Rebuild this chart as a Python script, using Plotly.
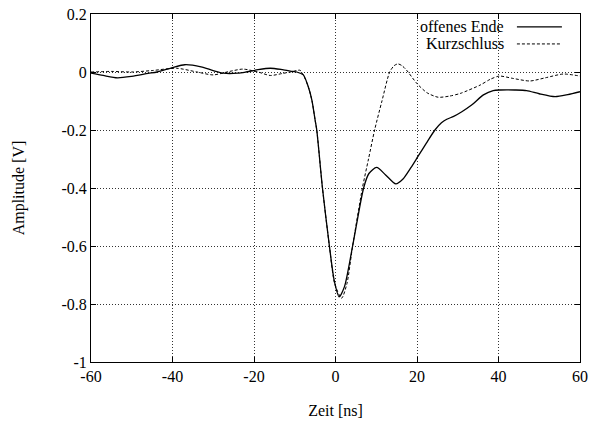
import plotly.graph_objects as go

# Time axis samples [ns] and measured amplitudes [V]
t_offen = [-60, -57, -53.5, -50, -46, -43.8, -40, -37, -33, -30, -27.5, -24, -22, -19, -16,
           -13, -10.5, -9.5, -7.9, -6.7, -5.8, -5.0, -4.6, -3.2, -1.5, -0.3, 0.9, 2.2, 4.2,
           6.9, 8.2, 10.1, 12.3, 14.8, 16.5, 18.5, 20.2, 22.3, 24.4, 26, 27.3, 29, 31, 33.4,
           36.3, 38.7, 40.5, 44, 46.9, 50, 53.9, 57, 60]
u_offen = [-0.004, -0.012, -0.02, -0.015, -0.005, 0.0, 0.015, 0.025, 0.018, 0.005, -0.004,
           -0.004, 0.0, 0.008, 0.013, 0.008, 0.002, 0.0, -0.01, -0.05, -0.097, -0.166, -0.2,
           -0.4, -0.6, -0.72, -0.775, -0.74, -0.6, -0.4, -0.35, -0.329, -0.355, -0.386,
           -0.37, -0.33, -0.292, -0.245, -0.2, -0.175, -0.163, -0.153, -0.137, -0.114,
           -0.079, -0.064, -0.062, -0.062, -0.064, -0.075, -0.085, -0.078, -0.068]

t_kurz = [-60, -55, -50, -45, -39, -34, -30, -26, -22.7, -19, -16, -13, -11, -8.7, -7.9,
          -6.7, -5.8, -5.0, -4.6, -3.2, -1.5, -0.2, 1.5, 2.8, 4.2, 6.6, 8.1, 9.6, 11.4, 13.3,
          14.4, 15.3, 16.3, 17.4, 20, 22.5, 25.2, 28, 30.6, 35.5, 38, 40.2, 43.5, 47.7, 51.5,
          55.9, 60]
u_kurz = [0.0, 0.002, 0.0, 0.005, 0.013, 0.0, -0.01, 0.002, 0.01, 0.0, -0.012, -0.005, 0.0,
          0.006, -0.01, -0.05, -0.097, -0.166, -0.2, -0.4, -0.6, -0.73, -0.78, -0.73, -0.6,
          -0.4, -0.3, -0.2, -0.1, 0.0, 0.022, 0.028, 0.022, 0.007, -0.04, -0.072, -0.087,
          -0.083, -0.074, -0.045, -0.025, -0.014, -0.022, -0.031, -0.02, -0.007, -0.014]

x_ticks = [-60, -40, -20, 0, 20, 40, 60]
x_ticktext = ["-60", "-40", "-20", "0", "20", "40", "60"]
y_ticks = [-1, -0.8, -0.6, -0.4, -0.2, 0, 0.2]
y_ticktext = ["-1", "-0.8", "-0.6", "-0.4", "-0.2", "0", "0.2"]

FONT = "Times New Roman, Liberation Serif, DejaVu Serif, serif"

fig = go.Figure()
fig.add_trace(go.Scatter(x=t_offen, y=u_offen, mode="lines", name="offenes Ende",
                         line=dict(color="black", width=1.3, shape="spline", smoothing=0.7),
                         showlegend=False))
fig.add_trace(go.Scatter(x=t_kurz, y=u_kurz, mode="lines", name="Kurzschluss",
                         line=dict(color="black", width=1, dash="3px,2px", shape="spline",
                                   smoothing=0.7),
                         showlegend=False))

axis_common = dict(
    showline=True, linecolor="black", linewidth=1, mirror="allticks",
    ticks="inside", ticklen=5, tickcolor="black", tickwidth=1,
    showgrid=True, gridcolor="#333", gridwidth=1, griddash="1px,2px",
    zeroline=False, automargin=False,
    tickfont=dict(family=FONT, size=16, color="black"),
)

fig.update_xaxes(range=[-60, 60], tickvals=x_ticks, ticktext=x_ticktext,
                 title=dict(text="Zeit [ns]", font=dict(family=FONT, size=16, color="black"),
                            standoff=20),
                 **axis_common)
fig.update_yaxes(range=[-1, 0.2], tickvals=y_ticks, ticktext=y_ticktext,
                 title=dict(text="Amplitude [V]", font=dict(family=FONT, size=16, color="black"),
                            standoff=32),
                 **axis_common)

# Key box: blank area over the grid, labels right-aligned with line samples to the right
fig.add_shape(type="rect", xref="paper", yref="paper", x0=0.63, x1=0.98, y0=0.89, y1=0.975,
              fillcolor="white", line=dict(width=0), layer="between")
key = [("offenes Ende", 0.963, dict(color="black", width=1.3)),
       ("Kurzschluss", 0.914, dict(color="black", width=1, dash="3px,2px"))]
for label, yk, style in key:
    fig.add_annotation(text=label, xref="paper", yref="paper", x=0.849, y=yk,
                       xanchor="right", yanchor="middle", showarrow=False,
                       font=dict(family=FONT, size=16, color="black"))
    fig.add_shape(type="line", xref="paper", yref="paper", x0=0.871, x1=0.963, y0=yk, y1=yk,
                  line=style, layer="above")

fig.update_layout(
    width=591, height=425,
    margin=dict(l=91, r=11, t=14, b=63),
    paper_bgcolor="white", plot_bgcolor="white",
    font=dict(family=FONT, size=16, color="black"),
)

fig.write_html("out.html")
